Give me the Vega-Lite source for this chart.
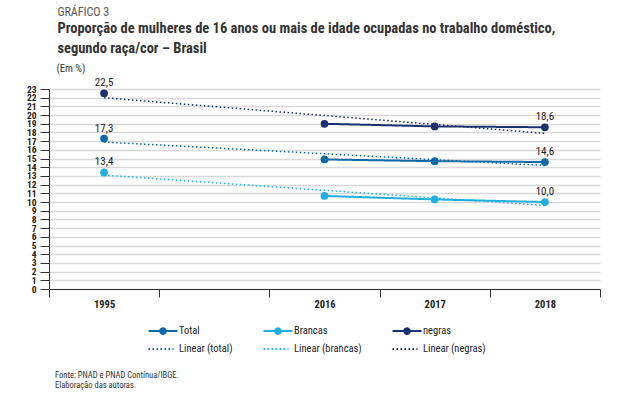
{
  "$schema": "https://vega.github.io/schema/vega-lite/v6.json",
  "padding": {"left": 26, "top": 6, "right": 4, "bottom": 2},
  "title": {
    "text": "GRÁFICO 3",
    "subtitle": ["Proporção de mulheres de 16 anos ou mais de idade ocupadas no trabalho doméstico,", "segundo raça/cor – Brasil"],
    "anchor": "start",
    "frame": "bounds",
    "dx": 31,
    "fontSize": 12,
    "fontWeight": "normal",
    "color": "#5a5a5a",
    "subtitleFontSize": 14.5,
    "subtitleFontWeight": "bold",
    "subtitleColor": "#333333",
    "subtitleLineHeight": 19.5,
    "subtitlePadding": 3,
    "offset": 7
  },
  "data": {
    "values": [
      {"series": "Total", "year": "1995", "value": 17.3},
      {"series": "Total", "year": "2016", "value": 14.9},
      {"series": "Total", "year": "2017", "value": 14.7},
      {"series": "Total", "year": "2018", "value": 14.6},
      {"series": "Brancas", "year": "1995", "value": 13.4},
      {"series": "Brancas", "year": "2016", "value": 10.7},
      {"series": "Brancas", "year": "2017", "value": 10.3},
      {"series": "Brancas", "year": "2018", "value": 10.0},
      {"series": "negras", "year": "1995", "value": 22.5},
      {"series": "negras", "year": "2016", "value": 19.0},
      {"series": "negras", "year": "2017", "value": 18.7},
      {"series": "negras", "year": "2018", "value": 18.6},
      {"series": "Linear (total)", "year": "1995", "value": 16.9},
      {"series": "Linear (total)", "year": "2018", "value": 14.2},
      {"series": "Linear (brancas)", "year": "1995", "value": 13.1},
      {"series": "Linear (brancas)", "year": "2018", "value": 9.6},
      {"series": "Linear (negras)", "year": "1995", "value": 22.0},
      {"series": "Linear (negras)", "year": "2018", "value": 17.9}
    ]
  },
  "vconcat": [
    {
      "width": 551,
      "height": 200,
      "title": {
        "text": ["Fonte: PNAD e PNAD Contínua/IBGE.", "Elaboração das autoras."],
        "orient": "bottom",
        "anchor": "start",
        "frame": "group",
        "dx": 6,
        "fontSize": 8.5,
        "fontWeight": "normal",
        "color": "#333333",
        "lineHeight": 10.5,
        "offset": 61
      },
      "encoding": {
        "x": {
          "field": "year",
          "type": "nominal",
          "scale": {"domain": ["1995", " ", "2016", "2017", "2018"], "paddingInner": 0, "paddingOuter": 0},
          "axis": {
            "title": null,
            "labelAngle": 0,
            "tickBand": "extent",
            "tickSize": 8,
            "tickColor": "#333333",
            "domainColor": "#333333",
            "labelFontWeight": "bold",
            "labelFontSize": 10.5,
            "labelColor": "#222222",
            "labelPadding": 2,
            "grid": false
          }
        },
        "y": {
          "field": "value",
          "type": "quantitative",
          "scale": {"domain": [0, 23], "nice": false, "zero": true},
          "axis": {
            "values": [0,1,2,3,4,5,6,7,8,9,10,11,12,13,14,15,16,17,18,19,20,21,22,23],
            "labelOverlap": false,
            "labelFontSize": 9.5,
            "labelFontWeight": "bold",
            "labelColor": "#222222",
            "labelPadding": 4,
            "tickSize": 9,
            "tickColor": "#333333",
            "domainColor": "#333333",
            "gridColor": "#d9d9d9",
            "gridWidth": 1.5,
            "title": "(Em %)",
            "titleAngle": 0,
            "titleAlign": "left",
            "titleBaseline": "alphabetic",
            "titleX": 7,
            "titleY": -18,
            "titleFontSize": 10.5,
            "titleFontWeight": "normal",
            "titleColor": "#333333"
          }
        },
        "color": {
          "field": "series",
          "type": "nominal",
          "scale": {
            "domain": ["Total", "Brancas", "negras", "Linear (total)", "Linear (brancas)", "Linear (negras)"],
            "range": ["#0b6aa6", "#22aee0", "#1c2f6e", "#0b6aa6", "#22aee0", "#1c2f6e"]
          },
          "legend": {
            "title": null,
            "orient": "none",
            "legendX": 103,
            "legendY": 231,
            "direction": "horizontal",
            "columns": 3,
            "padding": 0,
            "symbolSize": 400,
            "symbolStrokeWidth": 2,
            "labelOffset": 5,
            "columnPadding": 26,
            "rowPadding": 0,
            "labelFontSize": 10.5,
            "labelColor": "#222222",
            "encode": {
              "symbols": {
                "update": {
                  "shape": [
                    {"test": "datum.label == 'Total' || datum.label == 'Brancas' || datum.label == 'negras'", "value": "M-1.45,0L1.45,0M-0.28,0A0.28,0.28 0 1,0 0.28,0A0.28,0.28 0 1,0 -0.28,0"},
                    {"value": "M-1.45,0L1.05,0"}
                  ],
                  "fill": [
                    {"test": "datum.label == 'Total'", "value": "#0b6aa6"},
                    {"test": "datum.label == 'Brancas'", "value": "#22aee0"},
                    {"test": "datum.label == 'negras'", "value": "#1c2f6e"},
                    {"value": "transparent"}
                  ]
                }
              }
            }
          }
        }
      },
      "layer": [
        {
          "transform": [{"filter": "indexof(datum.series, 'Linear') < 0 && datum.year != '1995'"}],
          "mark": {"type": "line", "strokeWidth": 2},
          "encoding": {
            "strokeDash": {
              "field": "series",
              "type": "nominal",
              "scale": {
                "domain": ["Total", "Brancas", "negras", "Linear (total)", "Linear (brancas)", "Linear (negras)"],
                "range": [[1, 0], [1, 0], [1, 0], [1.5, 2.5], [1.5, 2.5], [1.5, 2.5]]
              },
              "legend": {
                "title": null,
                "orient": "none",
                "legendX": 103,
                "legendY": 231,
                "direction": "horizontal",
                "columns": 3,
                "padding": 0,
                "symbolSize": 400,
                "symbolStrokeWidth": 2,
                "labelOffset": 5,
                "columnPadding": 26,
                "rowPadding": 0,
                "labelFontSize": 10.5,
                "labelColor": "#222222"
              }
            }
          }
        },
        {
          "transform": [{"filter": "indexof(datum.series, 'Linear') >= 0"}],
          "mark": {"type": "line", "strokeWidth": 1.5},
          "encoding": {
            "strokeDash": {
              "field": "series",
              "type": "nominal",
              "scale": {
                "domain": ["Total", "Brancas", "negras", "Linear (total)", "Linear (brancas)", "Linear (negras)"],
                "range": [[1, 0], [1, 0], [1, 0], [1.5, 2.5], [1.5, 2.5], [1.5, 2.5]]
              },
              "legend": {
                "title": null,
                "orient": "none",
                "legendX": 103,
                "legendY": 231,
                "direction": "horizontal",
                "columns": 3,
                "padding": 0,
                "symbolSize": 400,
                "symbolStrokeWidth": 2,
                "labelOffset": 5,
                "columnPadding": 26,
                "rowPadding": 0,
                "labelFontSize": 10.5,
                "labelColor": "#222222"
              }
            }
          }
        },
        {
          "transform": [{"filter": "indexof(datum.series, 'Linear') < 0"}],
          "mark": {"type": "point", "filled": true, "size": 60, "opacity": 1}
        },
        {
          "transform": [{"filter": "indexof(datum.series, 'Linear') < 0 && (datum.year == '1995' || datum.year == '2018')"}],
          "mark": {"type": "text", "dy": -10, "fontSize": 11, "color": "#222222"},
          "encoding": {
            "text": {"field": "value", "type": "quantitative", "format": ".1f"},
            "color": {"value": "#222222"}
          }
        }
      ]
    }
  ],
  "config": {
    "font": "Liberation Sans Narrow, Roboto Condensed, DejaVu Sans Condensed, sans-serif",
    "view": {"stroke": null},
    "locale": {"number": {"decimal": ",", "thousands": ".", "grouping": [3], "currency": ["R$", ""]}}
  }
}
